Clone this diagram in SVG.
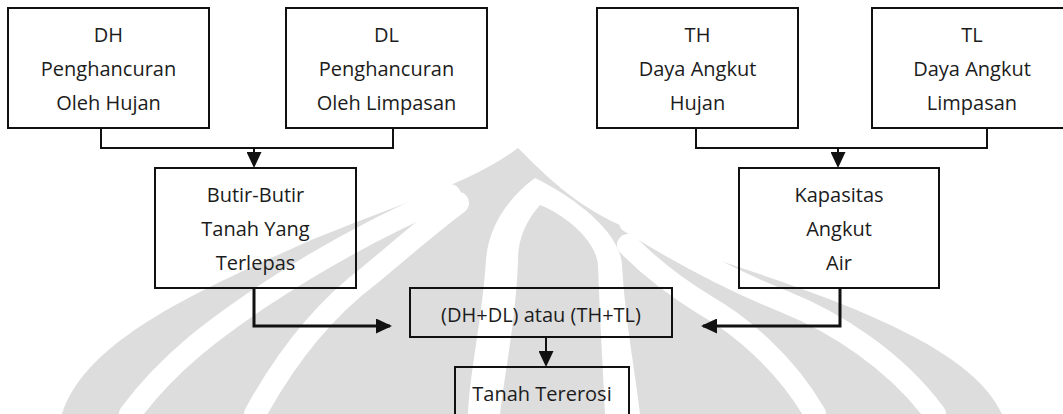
<svg xmlns="http://www.w3.org/2000/svg" width="1063" height="414" viewBox="0 0 1063 414">
  <defs>
    <style>
      .box { fill: none; stroke: #111; stroke-width: 2; }
      .lbl { font-family: "Open Sans", "Noto Sans", "DejaVu Sans", sans-serif; font-size: 20px; fill: #1c1c1c; text-anchor: middle; }
      .wire { fill: none; stroke: #111; stroke-width: 2; }
      .wire.thick { stroke-width: 3; }
      .wm { fill: #dddddd; }
      .wm-gap { fill: none; stroke: #fff; stroke-width: 22; stroke-linecap: round; }
    </style>
    <marker id="arrow" markerUnits="userSpaceOnUse" markerWidth="16" markerHeight="15" refX="14" refY="7.5" orient="auto">
      <path d="M0,0 L16,7.5 L0,15 Z" fill="#111"/>
    </marker>
  </defs>

  <rect width="1063" height="414" fill="#fff"/>

  <!-- faint emblem in the background -->
  <g id="emblem">
    <path class="wm" d="M62,414 C85,340 200,290 300,245 C380,210 470,185 518,148 C545,175 575,205 620,225 C720,268 960,320 1002,414 Z"/>
    <path class="wm-gap" d="M130,414 C170,360 220,325 260,298 C320,258 380,225 450,195"/>
    <path class="wm-gap" d="M255,414 C290,350 330,305 370,275 C400,250 425,228 458,203"/>
    <path class="wm-gap" d="M935,414 C895,360 835,322 785,302 C725,278 675,250 630,222"/>
    <path class="wm-gap" d="M815,414 C785,362 740,325 705,305 C672,285 648,265 628,245"/>
    <path fill="#fff" d="M535,178 C505,200 488,230 486,260 C482,320 470,370 468,414 L640,414 C635,370 625,320 622,265 C620,230 570,195 535,178 Z"/>
    <path class="wm" d="M540,205 C525,222 518,240 518,260 C516,320 505,370 500,414 L605,414 C603,370 600,320 598,265 C596,240 565,215 540,205 Z"/>
  </g>

  <!-- connectors -->
  <g id="connectors">
    <path class="wire" d="M101,128 V148 H393 V128"/>
    <path class="wire" d="M254,148 V166" marker-end="url(#arrow)"/>
    <path class="wire" d="M696,128 V148 H987 V128"/>
    <path class="wire" d="M838,148 V166" marker-end="url(#arrow)"/>
    <path class="wire thick" d="M254,288 V326 H390" marker-end="url(#arrow)"/>
    <path class="wire thick" d="M840,288 V326 H703" marker-end="url(#arrow)"/>
    <path class="wire" d="M546,337 V365" marker-end="url(#arrow)"/>
  </g>

  <g id="dh">
    <rect class="box" x="8" y="8" width="201" height="120"/>
    <text class="lbl" x="108.5" y="42">DH</text>
    <text class="lbl" x="108.5" y="76">Penghancuran</text>
    <text class="lbl" x="108.5" y="110">Oleh Hujan</text>
  </g>

  <g id="dl">
    <rect class="box" x="286" y="8" width="201" height="120"/>
    <text class="lbl" x="386.5" y="42">DL</text>
    <text class="lbl" x="386.5" y="76">Penghancuran</text>
    <text class="lbl" x="386.5" y="110">Oleh Limpasan</text>
  </g>

  <g id="th">
    <rect class="box" x="597" y="8" width="201" height="120"/>
    <text class="lbl" x="697.5" y="42">TH</text>
    <text class="lbl" x="697.5" y="76">Daya Angkut</text>
    <text class="lbl" x="697.5" y="110">Hujan</text>
  </g>

  <g id="tl">
    <rect class="box" x="872" y="8" width="201" height="120"/>
    <text class="lbl" x="972" y="42">TL</text>
    <text class="lbl" x="972" y="76">Daya Angkut</text>
    <text class="lbl" x="972" y="110">Limpasan</text>
  </g>

  <g id="butir">
    <rect class="box" x="155" y="168" width="201" height="120"/>
    <text class="lbl" x="255.5" y="202">Butir-Butir</text>
    <text class="lbl" x="255.5" y="236">Tanah Yang</text>
    <text class="lbl" x="255.5" y="270">Terlepas</text>
  </g>

  <g id="kapasitas">
    <rect class="box" x="739" y="168" width="200" height="120"/>
    <text class="lbl" x="839" y="202">Kapasitas</text>
    <text class="lbl" x="839" y="236">Angkut</text>
    <text class="lbl" x="839" y="270">Air</text>
  </g>

  <g id="gabungan">
    <rect class="box" x="410" y="288" width="262" height="49"/>
    <text class="lbl" x="541" y="322">(DH+DL) atau (TH+TL)</text>
  </g>

  <g id="tererosi">
    <rect class="box" x="455" y="367" width="174" height="60"/>
    <text class="lbl" x="542" y="401">Tanah Tererosi</text>
  </g>
</svg>
